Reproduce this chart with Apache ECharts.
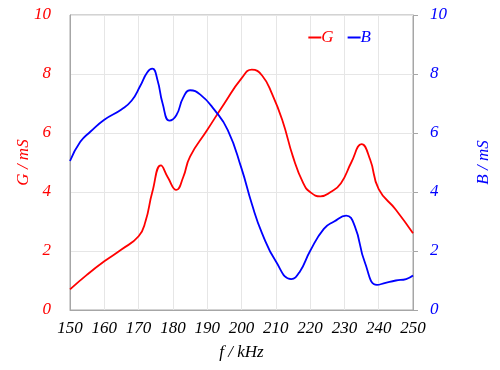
<!DOCTYPE html>
<html><head><meta charset="utf-8">
<script src="https://cdn.jsdelivr.net/npm/echarts@6/dist/echarts.min.js"></script>
<style>html,body{margin:0;padding:0;background:#fff}#c{width:500px;height:370px}</style>
</head><body><div id="c"></div>
<script>
const fG = [150,155,160,165,170,172,174,176.5,178.5,181,183,185,190,195,200,203,206,209,212,215,218,220,223,226,229,232,235,237.5,240,245,250];
const gVals = [0.7,1.2,1.65,2.05,2.5,3.0,4.0,4.9,4.5,4.07,4.5,5.2,6.1,7.0,7.85,8.15,7.95,7.3,6.4,5.2,4.3,4.0,3.85,4.0,4.3,5.0,5.62,5.1,4.1,3.4,2.6];
const fB = [150,153,156,160,165,168,170.5,172.5,174,175.5,177,179,181,183,185,188,192,196,200,203,206,210,214.5,217,220,224,227,230.5,233,236,239.5,242,245,248,250];
const bVals = [5.05,5.7,6.05,6.45,6.8,7.1,7.6,8.05,8.18,7.8,7.0,6.42,6.6,7.2,7.45,7.3,6.8,6.1,4.8,3.6,2.6,1.65,1.05,1.3,2.0,2.75,3.0,3.2,2.85,1.6,0.85,0.92,1.0,1.05,1.17];
const xTicks = [150,160,170,180,190,200,210,220,230,240,250];
const yTicks = [0,2,4,6,8,10];

const font = 'Liberation Serif';
const chart = echarts.init(document.getElementById('c'));
const pair = (xs, ys) => xs.map((x, i) => [x, ys[i]]);
chart.setOption({
  animation: false,
  grid: {left: 70, right: 87, top: 15, bottom: 60, show: true, borderColor: '#a6a6a6', borderWidth: 1, containLabel: false},
  legend: {
    right: 124, top: 24, itemWidth: 13, itemHeight: 2, itemGap: 14,
    icon: 'rect',
    textStyle: {fontFamily: font, fontStyle: 'italic', fontSize: 17, padding: [0,0,0,-5]},
    data: [{name: 'G', textStyle: {color: '#ff0000'}}, {name: 'B', textStyle: {color: '#0000ff'}}]
  },
  xAxis: {
    type: 'value', min: xTicks[0], max: xTicks[xTicks.length-1], interval: 10,
    name: 'f / kHz', nameLocation: 'middle', nameGap: 34, nameMoveOverlap: false,
    nameTextStyle: {fontFamily: font, fontStyle: 'italic', fontSize: 17, color: '#000'},
    axisLine: {lineStyle: {color: '#a6a6a6'}},
    axisTick: {show: false},
    axisLabel: {fontFamily: font, fontStyle: 'italic', fontSize: 17, color: '#000', margin: 10},
    splitLine: {show: true, lineStyle: {color: '#e6e6e6'}}
  },
  yAxis: [{
    type: 'value', min: 0, max: 10, interval: 2, position: 'left',
    name: 'G / mS', nameLocation: 'middle', nameGap: 38, nameRotate: 90, nameMoveOverlap: false,
    nameTextStyle: {fontFamily: font, fontStyle: 'italic', fontSize: 17, color: '#ff0000'},
    axisLine: {show: true, lineStyle: {color: '#a6a6a6'}},
    axisTick: {show: false},
    axisLabel: {fontFamily: font, fontStyle: 'italic', fontSize: 17, color: '#ff0000', margin: 19},
    splitLine: {show: true, lineStyle: {color: '#e6e6e6'}}
  }, {
    type: 'value', min: 0, max: 10, interval: 2, position: 'right',
    name: 'B / mS', nameLocation: 'middle', nameGap: 62, nameRotate: 90, nameMoveOverlap: false,
    nameTextStyle: {fontFamily: font, fontStyle: 'italic', fontSize: 17, color: '#0000ff'},
    axisLine: {show: true, lineStyle: {color: '#a6a6a6'}},
    axisTick: {show: true, length: 5, lineStyle: {color: '#a6a6a6'}},
    axisLabel: {fontFamily: font, fontStyle: 'italic', fontSize: 17, color: '#0000ff', margin: 17},
    splitLine: {show: false}
  }],
  series: [{
    name: 'G', type: 'line', yAxisIndex: 0, data: pair(fG, gVals), smooth: 0.5,
    showSymbol: false, lineStyle: {color: '#ff0000', width: 1.8}, itemStyle: {color: '#ff0000'}
  }, {
    name: 'B', type: 'line', yAxisIndex: 1, data: pair(fB, bVals), smooth: 0.5,
    showSymbol: false, lineStyle: {color: '#0000ff', width: 1.8}, itemStyle: {color: '#0000ff'}
  }]
});
</script></body></html>
